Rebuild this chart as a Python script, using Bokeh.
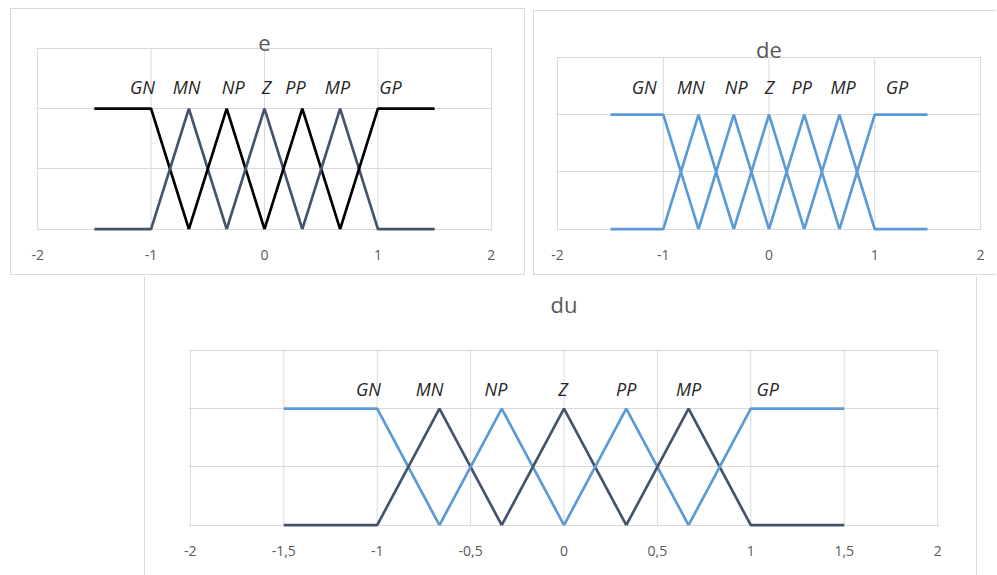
from bokeh.plotting import figure
from bokeh.layouts import row, column
from bokeh.models import FixedTicker, Label, Spacer
from bokeh.core.properties import value
from bokeh.embed import file_html
from bokeh.resources import INLINE

# ---- data ----
set_names = ["GN", "MN", "NP", "Z", "PP", "MP", "GP"]
GN_x = [-1.5, -1.0, -2/3]
GN_y = [1, 1, 0]
MN_x = [-1.5, -1.0, -2/3, -1/3]
MN_y = [0, 0, 1, 0]
NP_x = [-2/3, -1/3, 0.0]
NP_y = [0, 1, 0]
Z_x = [-1/3, 0.0, 1/3]
Z_y = [0, 1, 0]
PP_x = [0.0, 1/3, 2/3]
PP_y = [0, 1, 0]
MP_x = [1/3, 2/3, 1.0, 1.5]
MP_y = [0, 1, 0, 0]
GP_x = [2/3, 1.0, 1.5]
GP_y = [0, 1, 1]
series_x = [GN_x, MN_x, NP_x, Z_x, PP_x, MP_x, GP_x]
series_y = [GN_y, MN_y, NP_y, Z_y, PP_y, MP_y, GP_y]

# label anchor positions
label_x_e = [-1.075, -0.687, -0.276, 0.018, 0.273, 0.643, 1.11]
label_y_e = 1.18
label_x_de = [-1.18, -0.74, -0.31, 0.005, 0.31, 0.70, 1.21]
label_y_de = 1.24
label_x_du = [-1.047, -0.72, -0.364, -0.005, 0.333, 0.667, 1.09]
label_y_du = 1.17

ticks_top = [-2, -1, 0, 1, 2]
tick_labels_top = ["-2", "-1", "0", "1", "2"]
ticks_du = [-2, -1.5, -1, -0.5, 0, 0.5, 1, 1.5, 2]
tick_labels_du = ["-2", "-1,5", "-1", "-0,5", "0", "0,5", "1", "1,5", "2"]
y_grid = [0, 0.5, 1, 1.5]
x_min, x_max = -2, 2
y_min, y_max = 0, 1.5

BLACK = "#000000"
SLATE = "#44546A"
BLUE = "#5B9BD5"
colors_e = [BLACK, SLATE, BLACK, SLATE, BLACK, SLATE, BLACK]
colors_de = [BLUE] * 7
colors_du = [BLUE, SLATE, BLUE, SLATE, BLUE, SLATE, BLUE]

FONT = "Open Sans"
GRID = "#D9D9D9"
CARD = "1px solid #D9D9D9"
XPAD = 0.01
YPAD = 0.02


def make_chart(title, card_w, card_h, px_x0, px_x1, px_y1, px_y0, ticks,
               tick_labels, colors, label_x, label_y, title_px, styles):
    """px_* are pixel positions (inside the canvas) of x_min, x_max, y_max, y_min.
    title_px: title anchor distance (px) above the y_max line."""
    xppu = (px_x1 - px_x0) / (x_max - x_min)
    yppu = (px_y0 - px_y1) / (y_max - y_min)
    fl = px_x0 - XPAD * xppu
    fr = px_x1 + XPAD * xppu
    fb = px_y0 + YPAD * yppu
    bl = int(round(fl))
    br = int(round(card_w - fr))
    bb = int(round(card_h - fb))
    y_top = y_max + px_y1 / yppu          # frame reaches the canvas top
    p = figure(width=card_w, height=card_h,
               x_range=(x_min - XPAD, x_max + XPAD),
               y_range=(y_min - YPAD, y_top), y_axis_location=None,
               toolbar_location=None, output_backend="svg", title=None,
               min_border_left=bl, min_border_right=br,
               min_border_top=0, min_border_bottom=bb)
    p.styles = styles
    p.outline_line_color = None
    p.background_fill_color = "white"
    p.border_fill_color = "white"
    # grids: horizontal from the grid, vertical lines limited to the plot area
    p.xgrid.visible = False
    p.ygrid.ticker = FixedTicker(ticks=y_grid)
    p.ygrid.grid_line_color = GRID
    p.ygrid.grid_line_width = 1
    p.segment(x0=ticks, y0=[y_min] * len(ticks), x1=ticks,
              y1=[y_max] * len(ticks), line_color=GRID, line_width=1)
    # x axis
    ax = p.xaxis[0]
    ax.ticker = FixedTicker(ticks=ticks)
    ax.major_label_overrides = dict(zip(ticks, tick_labels))
    ax.axis_line_color = None
    ax.major_tick_line_color = None
    ax.minor_tick_line_color = None
    ax.major_label_text_color = "#595959"
    ax.major_label_text_font = FONT
    ax.major_label_text_font_size = "14px"
    ax.major_label_standoff = 12
    # series
    for xs, ys, c in zip(series_x, series_y, colors):
        p.line(xs, ys, line_color=c, line_width=2.7)
    # set labels
    p.text(x=label_x, y=[label_y] * len(set_names), text=set_names,
           text_font=value(FONT), text_font_style="italic",
           text_font_size="18px", text_color="#262626",
           text_align="center", text_baseline="middle")
    # title
    p.add_layout(Label(x=(x_min + x_max) / 2, y=y_max + title_px / yppu,
                       text=title, text_align="center",
                       text_baseline="alphabetic", text_font=FONT,
                       text_font_size="22px", text_color="#595959"))
    return p


p_e = make_chart("e", 515, 267, 26, 480, 39, 220, ticks_top, tick_labels_top,
                 colors_e, label_x_e, label_y_e, 5, {"border": CARD})
p_de = make_chart("de", 463, 265, 23, 446, 46, 218, ticks_top, tick_labels_top,
                  colors_de, label_x_de, label_y_de, 8,
                  {"border-left": CARD, "border-top": CARD,
                   "border-bottom": CARD})
p_du = make_chart("du", 833, 298, 45, 792, 73, 248, ticks_du, tick_labels_du,
                  colors_du, label_x_du, label_y_du, 46,
                  {"border-left": CARD, "border-right": CARD})

top = row(
    Spacer(width=10, height=10),
    column(Spacer(width=10, height=8), p_e),
    Spacer(width=8, height=10),
    column(Spacer(width=10, height=10), p_de),
)
bottom = row(Spacer(width=144, height=10), p_du)
layout = column(top, Spacer(width=10, height=2), bottom)

open("out.html", "w").write(file_html(layout, INLINE))
